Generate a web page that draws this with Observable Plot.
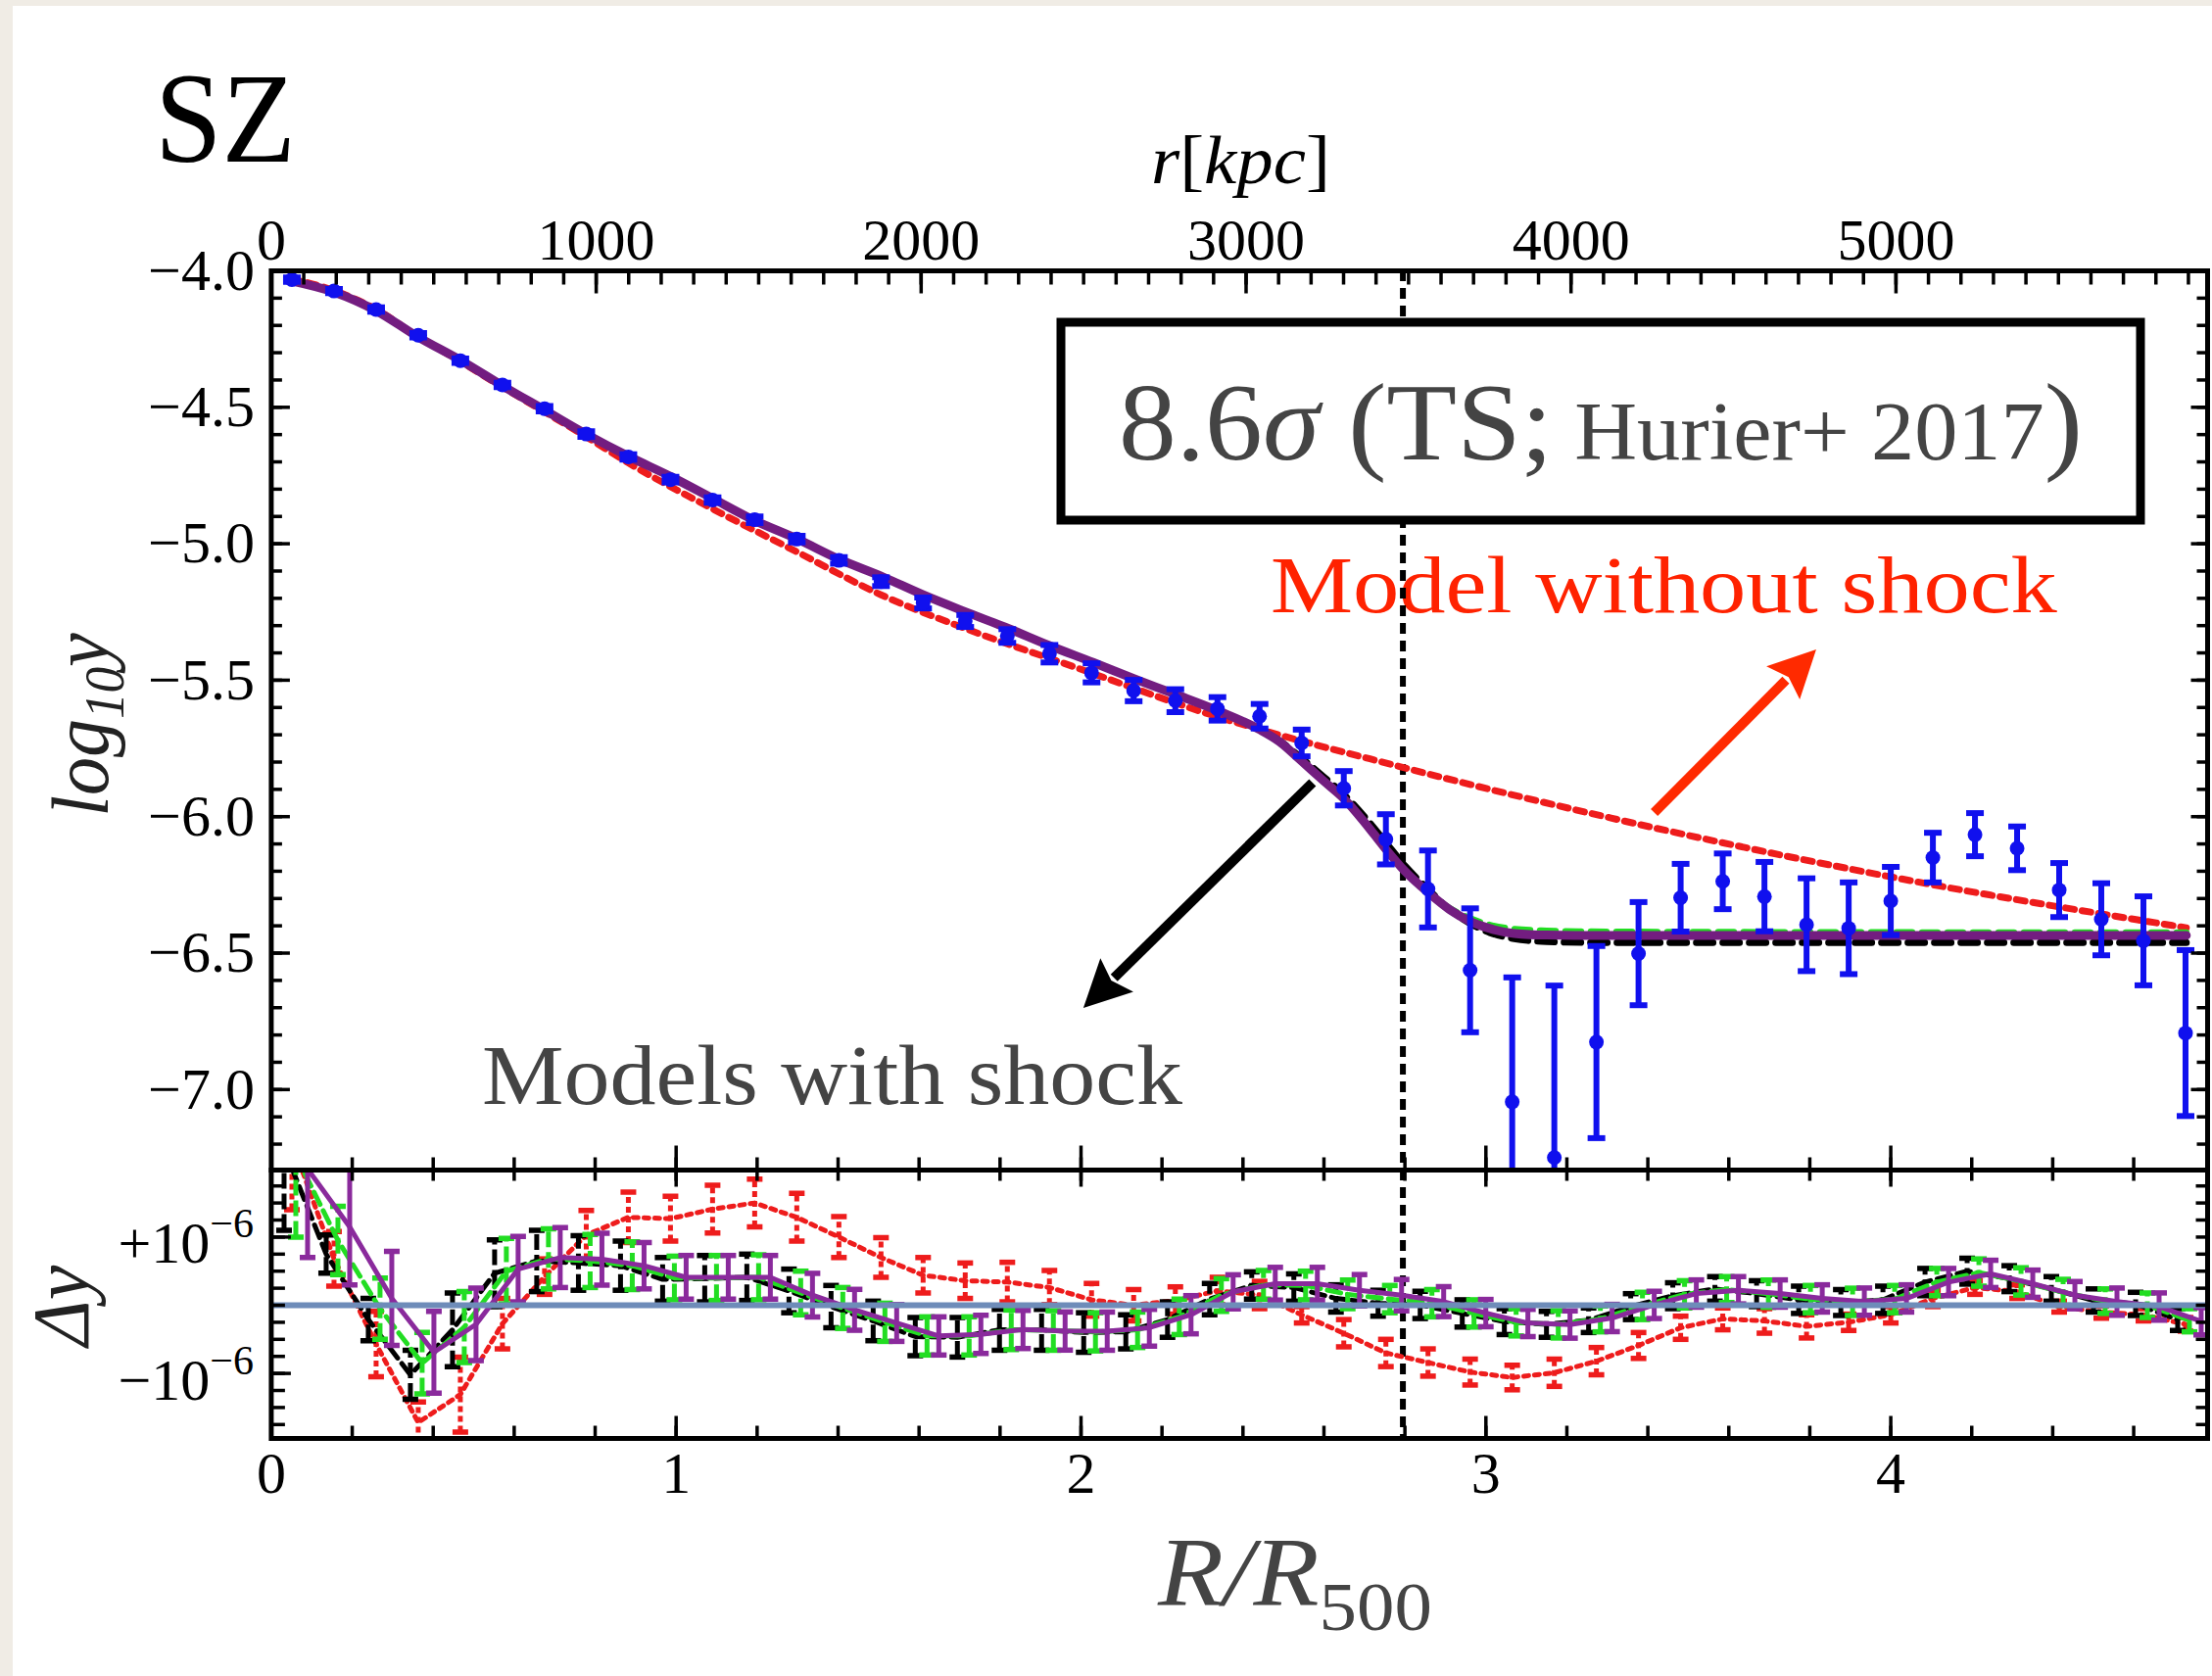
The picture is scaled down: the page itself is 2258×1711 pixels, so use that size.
<!DOCTYPE html>
<html>
<head>
<meta charset="utf-8">
<script src="https://cdn.jsdelivr.net/npm/d3@7"></script>
<script src="https://cdn.jsdelivr.net/npm/@observablehq/plot@0.6"></script>
<style>
  html, body { margin: 0; padding: 0; background: #f0ece5; }
  #fig { position: relative; width: 2258px; height: 1711px; overflow: hidden; background: #f0ece5; }
  #paper { position: absolute; left: 13px; top: 6px; width: 2245px; height: 1705px; background: #ffffff; }
  #fig svg { position: absolute; left: 0; top: 0; max-width: none; }
</style>
</head>
<body>
<div id="fig"><div id="paper"></div></div>
<script>
// ---------------- DATA ----------------
const R500kpc = 1246;            // kpc per R500 (top axis conversion)
const shockR = 2.795;            // vertical dotted line (shock position, R/R500)

// observed SZ profile (blue points)
const rBin = [0.051, 0.155, 0.259, 0.363, 0.467, 0.571, 0.675, 0.778, 0.882, 0.986,
  1.090, 1.194, 1.298, 1.402, 1.506, 1.610, 1.714, 1.818, 1.922, 2.026,
  2.130, 2.233, 2.337, 2.441, 2.545, 2.649, 2.753, 2.857, 2.961, 3.065,
  3.169, 3.273, 3.377, 3.481, 3.585, 3.688, 3.792, 3.896, 4.000, 4.104,
  4.208, 4.312, 4.416, 4.520, 4.624, 4.728];
const logY = [-4.032, -4.074, -4.142, -4.236, -4.329, -4.418, -4.505, -4.598, -4.682, -4.765,
  -4.840, -4.912, -4.983, -5.061, -5.139, -5.217, -5.283, -5.338, -5.403, -5.473,
  -5.538, -5.575, -5.605, -5.632, -5.730, -5.896, -6.083, -6.265, -6.563, -7.045,
  -7.249, -6.826, -6.502, -6.297, -6.237, -6.293, -6.396, -6.409, -6.309, -6.150,
  -6.066, -6.116, -6.269, -6.376, -6.455, -6.793];
const logYErr = [0.008, 0.008, 0.008, 0.008, 0.008, 0.008, 0.010, 0.010, 0.010, 0.010,
  0.010, 0.012, 0.012, 0.012, 0.016, 0.020, 0.022, 0.025, 0.032, 0.035,
  0.039, 0.042, 0.043, 0.045, 0.049, 0.063, 0.092, 0.141, 0.227, 0.456,
  0.630, 0.352, 0.189, 0.124, 0.102, 0.127, 0.170, 0.168, 0.125, 0.091,
  0.079, 0.080, 0.099, 0.132, 0.163, 0.304];

// models with shock (purple solid, black dashed, green dashed)
const modelR = [0.05, 0.155, 0.26, 0.36, 0.47, 0.57, 0.675, 0.78, 0.88, 0.99,
  1.09, 1.19, 1.30, 1.40, 1.51, 1.61, 1.71, 1.82, 1.92, 2.03,
  2.13, 2.23, 2.34, 2.44, 2.49, 2.54, 2.60, 2.65, 2.70, 2.75,
  2.80, 2.86, 2.91, 2.96, 3.01, 3.07, 3.15, 3.25, 3.35, 4.00, 4.73];
const modelPurple = [-4.037, -4.078, -4.147, -4.240, -4.330, -4.420, -4.510, -4.600, -4.678, -4.756,
  -4.834, -4.912, -4.983, -5.055, -5.121, -5.187, -5.247, -5.310, -5.372, -5.435,
  -5.494, -5.550, -5.613, -5.680, -5.725, -5.790, -5.870, -5.935, -6.020, -6.114,
  -6.200, -6.281, -6.340, -6.383, -6.410, -6.428, -6.434, -6.435, -6.435, -6.435, -6.435];
const modelBlack = [-4.037, -4.078, -4.147, -4.240, -4.330, -4.420, -4.510, -4.600, -4.678, -4.756,
  -4.834, -4.912, -4.983, -5.055, -5.121, -5.187, -5.247, -5.310, -5.372, -5.435,
  -5.494, -5.550, -5.613, -5.680, -5.722, -5.780, -5.855, -5.920, -6.000, -6.090,
  -6.180, -6.270, -6.340, -6.390, -6.425, -6.447, -6.458, -6.461, -6.461, -6.461, -6.461];
const modelGreen = [-4.037, -4.078, -4.147, -4.240, -4.330, -4.420, -4.510, -4.600, -4.678, -4.756,
  -4.834, -4.912, -4.983, -5.055, -5.121, -5.187, -5.247, -5.310, -5.372, -5.435,
  -5.494, -5.550, -5.613, -5.680, -5.725, -5.790, -5.870, -5.935, -6.020, -6.114,
  -6.200, -6.281, -6.335, -6.372, -6.397, -6.412, -6.418, -6.421, -6.422, -6.424, -6.425];

// model without shock (red dotted)
const noShockR = [0.05, 0.155, 0.26, 0.36, 0.47, 0.57, 0.675, 0.78, 0.88, 1.095,
  1.30, 1.506, 1.713, 2.0, 2.322, 2.794, 3.309, 4.005, 4.73];
const noShockY = [-4.030, -4.072, -4.142, -4.238, -4.335, -4.425, -4.517, -4.610, -4.702, -4.876,
  -5.031, -5.187, -5.310, -5.460, -5.627, -5.819, -6.005, -6.222, -6.407];

// residuals Δy (units of 1e-6), same bins as rBin
const resBlack = [2.30, 0.75, -0.21, -1.02, -0.36, 0.47, 0.65, 0.62, 0.58, 0.38,
  0.39, 0.41, 0.21, -0.02, -0.23, -0.46, -0.47, -0.36, -0.36, -0.40,
  -0.39, -0.21, 0.09, 0.29, 0.26, 0.10, 0.03, 0.005, -0.12, -0.24,
  -0.28, -0.22, -0.02, 0.14, 0.24, 0.17, 0.08, 0.04, 0.08, 0.34,
  0.50, 0.39, 0.24, 0.07, 0.02, -0.21];
const resBlackErr = [1.20, 0.28, 0.31, 0.36, 0.54, 0.49, 0.45, 0.40, 0.36, 0.32,
  0.34, 0.34, 0.32, 0.31, 0.29, 0.28, 0.29, 0.30, 0.30, 0.29,
  0.25, 0.26, 0.23, 0.20, 0.20, 0.20, 0.19, 0.20, 0.20, 0.19,
  0.19, 0.18, 0.19, 0.19, 0.18, 0.19, 0.20, 0.19, 0.20, 0.20,
  0.19, 0.19, 0.18, 0.17, 0.17, 0.16];
const resGreen = [2.20, 0.95, -0.05, -0.85, -0.32, 0.50, 0.68, 0.65, 0.58, 0.40,
  0.40, 0.41, 0.18, -0.04, -0.25, -0.45, -0.45, -0.36, -0.37, -0.39,
  -0.36, -0.17, 0.15, 0.30, 0.29, 0.16, 0.09, 0.03, -0.12, -0.25,
  -0.28, -0.20, -0.01, 0.16, 0.23, 0.17, 0.09, 0.05, 0.09, 0.34,
  0.48, 0.35, 0.19, 0.06, 0.00, -0.22];
const resGreenErr = [1.20, 0.50, 0.45, 0.45, 0.52, 0.48, 0.44, 0.39, 0.35, 0.32,
  0.33, 0.33, 0.32, 0.30, 0.28, 0.28, 0.28, 0.29, 0.29, 0.28,
  0.26, 0.26, 0.24, 0.21, 0.21, 0.21, 0.20, 0.20, 0.20, 0.20,
  0.20, 0.19, 0.20, 0.20, 0.19, 0.20, 0.20, 0.20, 0.20, 0.20,
  0.20, 0.20, 0.19, 0.18, 0.18, 0.17];
const resPurple = [2.00, 1.15, 0.10, -0.69, -0.28, 0.53, 0.70, 0.675, 0.58, 0.41,
  0.41, 0.41, 0.148, -0.067, -0.26, -0.45, -0.427, -0.355, -0.378, -0.38,
  -0.33, -0.139, 0.197, 0.316, 0.316, 0.22, 0.148, 0.053, -0.115, -0.26,
  -0.283, -0.187, 0.005, 0.172, 0.22, 0.172, 0.10, 0.053, 0.10, 0.34,
  0.46, 0.316, 0.148, 0.053, -0.019, -0.235];
const resPurpleErr = [1.30, 0.85, 0.69, 0.60, 0.53, 0.48, 0.44, 0.38, 0.34, 0.32,
  0.32, 0.32, 0.32, 0.30, 0.27, 0.28, 0.28, 0.28, 0.28, 0.28,
  0.27, 0.28, 0.25, 0.24, 0.24, 0.23, 0.23, 0.22, 0.20, 0.20,
  0.20, 0.20, 0.20, 0.20, 0.20, 0.20, 0.20, 0.20, 0.20, 0.20,
  0.20, 0.20, 0.20, 0.20, 0.20, 0.20];
const resRed = [2.40, 0.68, -0.57, -1.72, -1.31, -0.27, 0.42, 1.03, 1.29, 1.27,
  1.41, 1.50, 1.29, 1.00, 0.70, 0.44, 0.36, 0.34, 0.26, 0.08,
  0.00, 0.07, 0.21, 0.15, -0.14, -0.41, -0.70, -0.84, -0.98, -1.06,
  -0.99, -0.82, -0.59, -0.33, -0.20, -0.23, -0.31, -0.25, -0.14, 0.10,
  0.26, 0.20, -0.02, -0.10, -0.14, -0.28];
const resRedErr = [1.00, 0.40, 0.48, 0.30, 0.55, 0.37, 0.26, 0.36, 0.37, 0.33,
  0.35, 0.35, 0.35, 0.30, 0.29, 0.26, 0.26, 0.29, 0.25, 0.24,
  0.23, 0.20, 0.20, 0.20, 0.12, 0.20, 0.20, 0.20, 0.19, 0.18,
  0.20, 0.20, 0.19, 0.17, 0.16, 0.18, 0.17, 0.12, 0.12, 0.12,
  0.10, 0.10, 0.08, 0.09, 0.09, 0.10];

// tick labels
const kpcTickLabels = [0, 1000, 2000, 3000, 4000, 5000];
const yTickLabels = [-4.0, -4.5, -5.0, -5.5, -6.0, -6.5, -7.0];
const xTickLabels = [0, 1, 2, 3, 4];
const dTickLabels = [1, -1];

// annotation arrows (data coords of upper panel)
const arrows = [
  {x1: 2.573, y1: -5.877, x2: 2.007, y2: -6.703, color: "#000000"},
  {x1: 3.417, y1: -5.987, x2: 3.817, y2: -5.389, color: "#ff2a00"}
];

// ---------------- STYLE ----------------
const serif = "Liberation Serif, Times New Roman, serif";
const W = 2258, H = 1711, X_MAX = 4.7825;
const BLUE = "#1010ee", PURPLE = "#731d80", PURPLE2 = "#8a2a9c", RED = "#ee1c1c", GREEN = "#22dd22";

const obs = rBin.map((r, i) => ({r, y: logY[i], lo: logY[i] - logYErr[i], hi: logY[i] + logYErr[i]}));
const shockTab = modelR.map((r, i) => ({r, purple: modelPurple[i], black: modelBlack[i], green: modelGreen[i]}));
const noShockTab = noShockR.map((r, i) => ({r, y: noShockY[i]}));

const seg = (ux, uy) => ({draw(ctx, size) { const l = Math.sqrt(size / Math.PI); ctx.moveTo(0, 0); ctx.lineTo(ux * l, uy * l); }});
const capSym = {draw(ctx, size) { const l = Math.sqrt(size / Math.PI); ctx.moveTo(-l, 0); ctx.lineTo(l, 0); }};

function tickMarks(values, get, anchor, dir, len, sw = 3.5) {
  const o = {frameAnchor: anchor, symbol: seg(dir[0], dir[1]), r: len, stroke: "black", strokeWidth: sw, fill: "none"};
  if (anchor === "left" || anchor === "right") o.y = get; else o.x = get;
  return Plot.dot(values, o);
}
const id = d => d;
const yMinor = d3.range(-40, -73, -1).map(d => d / 10);
const kpcMinor = d3.range(0, 6000, 100).filter(d => d / R500kpc <= X_MAX);
const xMinor = d3.range(0, 48, 2).map(d => d / 10);
const dMinor = d3.range(-7, 8).map(d => d / 4);
const fmt1 = d3.format(".1f");

const upperChart = Plot.plot({
  width: W, height: 1195,
  marginLeft: 276.4, marginRight: 5, marginTop: 276, marginBottom: 1,
  x: {domain: [0, X_MAX], axis: null},
  y: {domain: [-7.295, -4.0], axis: null},
  style: {background: "transparent", overflow: "visible"},
  marks: [
    Plot.ruleX([shockR], {stroke: "black", strokeWidth: 6, strokeDasharray: "11,7"}),
    Plot.line(noShockTab, {x: "r", y: "y", stroke: RED, strokeWidth: 7, strokeDasharray: "9,8", curve: "monotone-x"}),
    Plot.line(shockTab, {x: "r", y: "green", stroke: GREEN, strokeWidth: 6.5, strokeDasharray: "16,10", curve: "monotone-x"}),
    Plot.line(shockTab, {x: "r", y: "black", stroke: "black", strokeWidth: 7, strokeDasharray: "17,10", curve: "monotone-x"}),
    Plot.line(shockTab, {x: "r", y: "purple", stroke: PURPLE, strokeWidth: 9, curve: "monotone-x"}),
    Plot.ruleX(obs, {x: "r", y1: "lo", y2: "hi", stroke: BLUE, strokeWidth: 6, clip: true}),
    Plot.dot(obs, {x: "r", y: "lo", symbol: capSym, r: 9, stroke: BLUE, strokeWidth: 6, fill: "none", clip: true}),
    Plot.dot(obs, {x: "r", y: "hi", symbol: capSym, r: 9, stroke: BLUE, strokeWidth: 6, fill: "none", clip: true}),
    Plot.dot(obs, {x: "r", y: "y", r: 7.5, fill: BLUE, clip: true}),
    // ticks
    tickMarks(yMinor, id, "left", [1, 0], 11),
    tickMarks(yTickLabels, id, "left", [1, 0], 19),
    tickMarks(yMinor, id, "right", [-1, 0], 11),
    tickMarks(yTickLabels, id, "right", [-1, 0], 17),
    tickMarks(kpcMinor, d => d / R500kpc, "top", [0, 1], 14),
    tickMarks(kpcTickLabels, d => d / R500kpc, "top", [0, 1], 23),
    tickMarks(xMinor, id, "bottom", [0, -1], 13),
    tickMarks(xTickLabels, id, "bottom", [0, -1], 25),
    Plot.frame({stroke: "black", strokeWidth: 5}),
    Plot.text(yTickLabels, {y: id, frameAnchor: "left", dx: -17, textAnchor: "end", lineAnchor: "middle",
      text: d => fmt1(d), fontSize: 60, fontFamily: serif, fill: "black"}),
    Plot.text(kpcTickLabels, {x: d => d / R500kpc, frameAnchor: "top", dy: -31, lineAnchor: "middle",
      text: d => String(d), fontSize: 60, fontFamily: serif, fill: "black"})
  ]
});

const resSeries = [
  {vals: resRed, errs: resRedErr, color: RED, dash: "5,6", barDash: "6,4", width: 5, dx: 0},
  {vals: resBlack, errs: resBlackErr, color: "#000000", dash: "14,7", barDash: "16,5", width: 5, dx: -8},
  {vals: resGreen, errs: resGreenErr, color: GREEN, dash: "14,7", barDash: "16,5", width: 5, dx: 4},
  {vals: resPurple, errs: resPurpleErr, color: PURPLE2, dash: null, barDash: null, width: 5, dx: 16}
];
const resMarks = resSeries.flatMap(s => {
  const tab = rBin.map((r, i) => ({r, v: s.vals[i], lo: s.vals[i] - s.errs[i], hi: s.vals[i] + s.errs[i]}));
  return [
    Plot.ruleX(tab, {x: "r", y1: "lo", y2: "hi", dx: s.dx, stroke: s.color, strokeWidth: 5, strokeDasharray: s.barDash, clip: true}),
    Plot.dot(tab, {x: "r", y: "lo", dx: s.dx, symbol: capSym, r: 8, stroke: s.color, strokeWidth: 5.5, fill: "none", clip: true}),
    Plot.dot(tab, {x: "r", y: "hi", dx: s.dx, symbol: capSym, r: 8, stroke: s.color, strokeWidth: 5.5, fill: "none", clip: true}),
    Plot.line(tab, {x: "r", y: "v", dx: s.dx, stroke: s.color, strokeWidth: s.width, strokeDasharray: s.dash, curve: "linear", clip: true})
  ];
});

const lowerChart = Plot.plot({
  width: W, height: H,
  marginLeft: 276.4, marginRight: 5, marginTop: 1194, marginBottom: 243,
  x: {domain: [0, X_MAX], axis: null},
  y: {domain: [-1.954, 1.983], axis: null},
  style: {background: "transparent", overflow: "visible"},
  marks: [
    Plot.ruleX([shockR], {stroke: "black", strokeWidth: 6, strokeDasharray: "11,7"}),
    ...resMarks,
    Plot.ruleY([0], {stroke: "#6e8cb9", strokeWidth: 6}),
    tickMarks(dMinor, id, "left", [1, 0], 14),
    tickMarks(dTickLabels, id, "left", [1, 0], 20),
    tickMarks(dMinor, id, "right", [-1, 0], 12),
    tickMarks(xMinor, id, "top", [0, 1], 11),
    tickMarks(xTickLabels, id, "top", [0, 1], 17),
    tickMarks(xMinor, id, "bottom", [0, -1], 13),
    tickMarks(xTickLabels, id, "bottom", [0, -1], 23),
    Plot.frame({stroke: "black", strokeWidth: 5}),
    Plot.text(xTickLabels, {x: id, frameAnchor: "bottom", dy: 36, lineAnchor: "middle",
      text: d => String(d), fontSize: 60, fontFamily: serif, fill: "black"})
  ]
});

// ---------------- ASSEMBLY ----------------
const fig = d3.select("#fig");
const ovUnder = fig.append("svg").attr("width", W).attr("height", H);
fig.node().appendChild(upperChart);
fig.node().appendChild(lowerChart);
const ov = fig.append("svg").attr("width", W).attr("height", H);

function fit(sel, x0, target) {
  const w = sel.node().getBBox().width;
  if (w > 0) sel.attr("transform", `translate(${x0} 0) scale(${target / w} 1) translate(${-x0} 0)`);
  return sel;
}

// red label (under the dotted line)
fit(ovUnder.append("text").attr("x", 1297).attr("y", 625).attr("font-family", serif)
  .attr("font-size", 82).attr("fill", "#ff2200").text("Model without shock"), 1297, 803);

// SZ
fit(ov.append("text").attr("x", 158).attr("y", 165).attr("font-family", serif)
  .attr("font-size", 131).attr("fill", "#000").text("SZ"), 158, 144);

// r[kpc]
{
  const t = ov.append("text").attr("x", 1175).attr("y", 187).attr("font-family", serif).attr("font-size", 70).attr("fill", "#000");
  t.append("tspan").attr("font-style", "italic").text("r");
  t.append("tspan").text("[");
  t.append("tspan").attr("font-style", "italic").text("kpc");
  t.append("tspan").text("]");
  fit(t, 1175, 183);
}

// log10 y
{
  const g = ov.append("g").attr("transform", "translate(110,740) rotate(-90)");
  const t = g.append("text").attr("x", 0).attr("y", 0).attr("text-anchor", "middle")
    .attr("font-family", serif).attr("font-style", "italic").attr("font-size", 82).attr("fill", "#222");
  t.append("tspan").text("log");
  t.append("tspan").attr("font-size", 56).attr("dy", 16).text("10");
  t.append("tspan").attr("dy", -16).text("y");
  fit(t, 0, 188);
}

// Δy
{
  const g = ov.append("g").attr("transform", "translate(90,1333) rotate(-90)");
  const t = g.append("text").attr("x", 0).attr("y", 0).attr("text-anchor", "middle")
    .attr("font-family", serif).attr("font-style", "italic").attr("font-size", 82).attr("fill", "#222").text("Δy");
  fit(t, 0, 86);
}

// ±10^-6 labels, placed with the lower chart's y scale
{
  const ys = lowerChart.scale("y");
  dTickLabels.forEach(v => {
    const yy = ys.apply(v);
    const t = ov.append("text").attr("x", 259).attr("y", yy + 27).attr("text-anchor", "end")
      .attr("font-family", serif).attr("font-size", 60).attr("fill", "#000");
    t.append("tspan").text((v > 0 ? "+" : "\u2212") + "10");
    t.append("tspan").attr("font-size", 42).attr("dy", -26).text("\u22126");
  });
}

// R/R500
{
  const t = ov.append("text").attr("x", 1182).attr("y", 1638).attr("font-family", serif).attr("fill", "#444");
  t.append("tspan").attr("font-style", "italic").attr("font-size", 100).text("R/R");
  t.append("tspan").attr("font-size", 70).attr("dy", 26).text("500");
  fit(t, 1182, 281);
}

// box with significance
ov.append("rect").attr("x", 1083).attr("y", 329).attr("width", 1102).attr("height", 202)
  .attr("fill", "#fff").attr("stroke", "#000").attr("stroke-width", 9);
{
  const t = ov.append("text").attr("x", 1142).attr("y", 469).attr("font-family", serif).attr("fill", "#444");
  t.append("tspan").attr("font-size", 113).text("8.6");
  t.append("tspan").attr("font-size", 113).attr("font-style", "italic").text("σ");
  t.append("tspan").attr("font-size", 113).text(" (TS;");
  t.append("tspan").attr("font-size", 85).text(" Hurier+ 2017");
  t.append("tspan").attr("font-size", 113).text(")");
  fit(t, 1142, 984);
}

// models with shock label
fit(ov.append("text").attr("x", 492).attr("y", 1127).attr("font-family", serif)
  .attr("font-size", 86).attr("fill", "#444").text("Models with shock"), 492, 715);

// arrows through the upper chart's scales
{
  const sx = upperChart.scale("x"), sy = upperChart.scale("y");
  arrows.forEach(a => {
    const x1 = sx.apply(a.x1), y1 = sy.apply(a.y1), x2 = sx.apply(a.x2), y2 = sy.apply(a.y2);
    const dx = x2 - x1, dy = y2 - y1, L = Math.hypot(dx, dy), ux = dx / L, uy = dy / L;
    const hl = 48, hw = 24;
    const bx = x2 - ux * hl, by = y2 - uy * hl;
    ov.append("line").attr("x1", x1).attr("y1", y1).attr("x2", bx + ux * 4).attr("y2", by + uy * 4)
      .attr("stroke", a.color).attr("stroke-width", 10);
    ov.append("path").attr("d", `M${x2},${y2}L${bx - uy * hw},${by + ux * hw}L${bx + ux * 8},${by + uy * 8}L${bx + uy * hw},${by - ux * hw}Z`)
      .attr("fill", a.color);
  });
}
</script>
</body>
</html>
